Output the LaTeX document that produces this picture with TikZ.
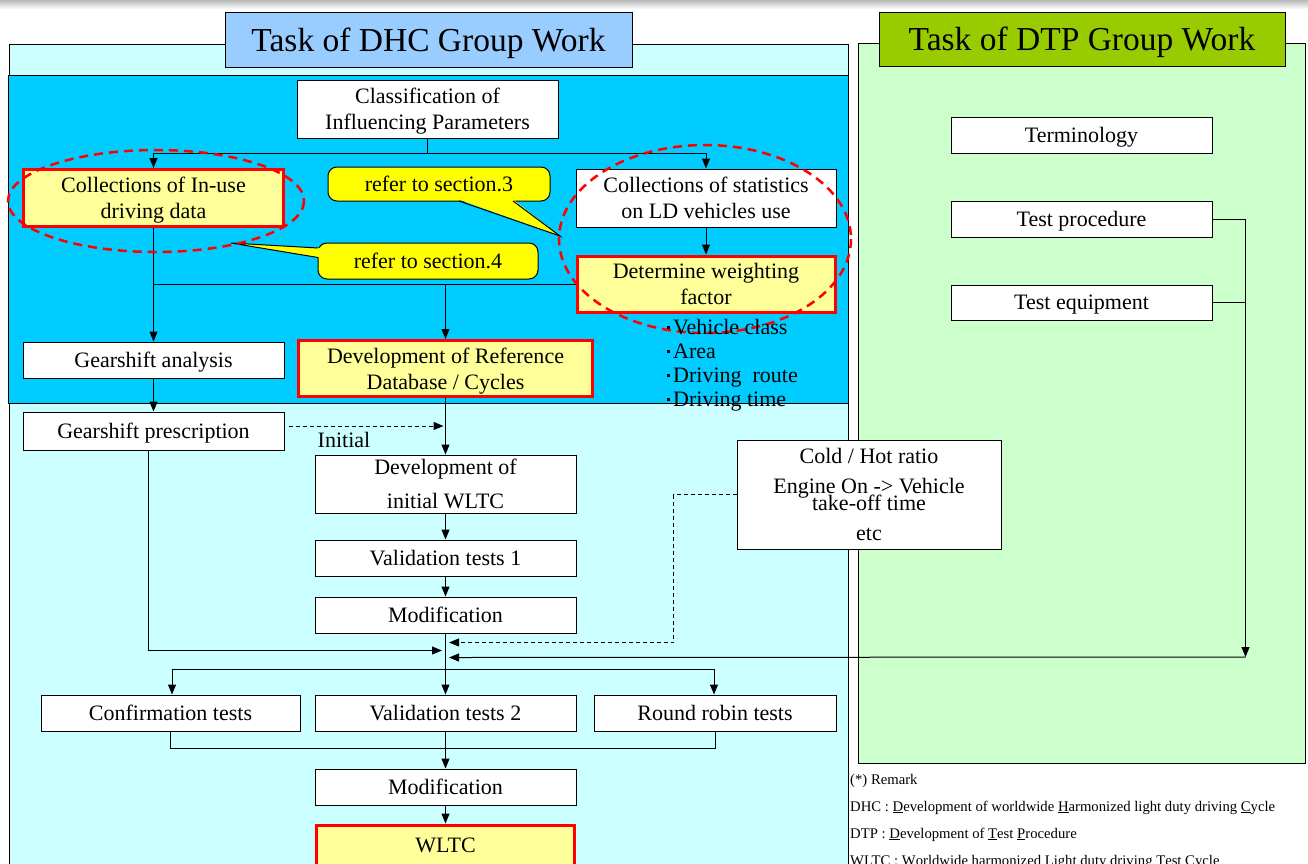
\documentclass[tikz,border=0pt]{standalone}
\usepackage{fontspec}
\setmainfont{Liberation Serif}
\usetikzlibrary{arrows.meta,calc}
\definecolor{cyanl}{HTML}{CCFFFF}
\definecolor{bluereg}{HTML}{00CCFF}
\definecolor{greenl}{HTML}{CCFFCC}
\definecolor{dhcT}{HTML}{99CCFF}
\definecolor{dtpT}{HTML}{99CC00}
\definecolor{yfill}{HTML}{FFFF99}
\definecolor{callY}{HTML}{FFFF00}
\newcommand\bodyfont{\fontsize{22}{26}\selectfont}
\newcommand\titlefont{\fontsize{33.5}{38}\selectfont}
\newcommand\remfont{\fontsize{14.7}{17}\selectfont}
\newcommand\bul{\rule[5pt]{3pt}{3pt}\hspace{3pt}}
\begin{document}
\begin{tikzpicture}[x=1pt,y=-1pt,
  box/.style={draw=black, line width=1pt, fill=white, inner sep=0pt, align=center, font=\bodyfont, text depth=-3.5pt},
  redbox/.style={box, draw=red, line width=3pt, fill=yfill},
  titlebox/.style={draw=black, line width=1pt, inner sep=0pt, font=\titlefont, text depth=-4.5pt},
  arr/.style={-{Triangle[length=10pt,width=8pt]}, line width=1pt},
  conn/.style={line width=1pt},
  dashconn/.style={dash pattern=on 4pt off 3pt},
  redell/.style={draw=red, line width=2.5pt, dash pattern=on 9pt off 6pt},
  callout/.style={draw=black, line width=1pt, fill=callY, rounded corners=9pt, inner sep=0pt, font=\bodyfont, text depth=-3.5pt},
  plain/.style={inner sep=0pt, font=\bodyfont},
  remark/.style={inner sep=0pt, font=\remfont, anchor=base west}]
\useasboundingbox (0,0) rectangle (1308,863);
\clip (0,0) rectangle (1308,863);
\fill[white] (0,0) rectangle (1308,863);
\shade[top color=gray!55, bottom color=white] (0,0) rectangle (1308,9);

% frames
\draw[conn, fill=cyanl] (9,44) rectangle (848,880);
\draw[conn, fill=bluereg] (8,75) rectangle (848,403);
\draw[conn, fill=greenl] (858,43) rectangle (1305,763);
\node[titlebox, fill=dhcT, minimum width=407, minimum height=55] (dhct) at (428.5,39.5) {Task of DHC Group Work};
\node[titlebox, fill=dtpT, minimum width=406, minimum height=54] (dtpt) at (1082,39) {Task of DTP Group Work};

% DHC boxes
\node[box, minimum width=261, minimum height=58] (cls) at (427.5,109) {Classification of\\Influencing Parameters};
\node[redbox, minimum width=260, minimum height=57] (inuse) at (153.5,198) {Collections of In-use\\driving data};
\node[box, minimum width=260, minimum height=58] (stats) at (706,198) {Collections of statistics\\on LD vehicles use};
\node[redbox, minimum width=258, minimum height=56] (weight) at (706,284) {Determine weighting\\factor};
\node[box, minimum width=261, minimum height=36] (gsa) at (153.5,360) {Gearshift analysis};
\node[redbox, minimum width=294, minimum height=56] (ref) at (445.5,368.5) {Development of Reference\\Database / Cycles};
\node[box, minimum width=261, minimum height=38] (gsp) at (153.5,431) {Gearshift prescription};
\node[box, minimum width=261, minimum height=58] (init) at (445.5,484) {Development of\\[8pt]initial WLTC};
\node[box, minimum width=261, minimum height=36] (val1) at (445.5,558) {Validation tests 1};
\node[box, minimum width=261, minimum height=36] (mod1) at (445.5,615) {Modification};
\node[box, minimum width=259, minimum height=36] (conf) at (170.5,713) {Confirmation tests};
\node[box, minimum width=261, minimum height=36] (val2) at (445.5,713) {Validation tests 2};
\node[box, minimum width=242, minimum height=36] (rr) at (715,713) {Round robin tests};
\node[box, minimum width=261, minimum height=36] (mod2) at (445.5,787) {Modification};
\node[redbox, minimum width=258, minimum height=40] (wltc) at (445.5,845) {WLTC};
\node[box, minimum width=264, minimum height=109] (cold) at (869,494.5) {Cold / Hot ratio\\[4pt]Engine On -> Vehicle\\[-9pt]take-off time\\[4pt]etc};

% DTP boxes
\node[box, minimum width=261, minimum height=36] (term) at (1081.5,135) {Terminology};
\node[box, minimum width=261, minimum height=36] (tproc) at (1081.5,219) {Test procedure};
\node[box, minimum width=261, minimum height=35] (tequip) at (1081.5,302.5) {Test equipment};

% connectors
\draw[conn] (cls.south) -- ++(0,15) coordinate (cj);
\draw[arr] (cj) -| (inuse.north);
\draw[arr] (cj) -| (stats.north);
\draw[arr] (stats.south) -- (weight.north);
\draw[arr] (inuse.south) -- (gsa.north);
\draw[conn] (inuse.south |- weight.west) -- (weight.west);
\draw[arr] (ref.north |- weight.west) -- (ref.north);
\draw[arr] (gsa.south) -- (gsp.north);
\draw[arr, dashconn] ($(gsp.east)+(4,-5)$) -- ($(gsp.east -| ref.south)+(-2,-5)$);
\node[plain] (initlbl) at (344,440) {Initial};
\draw[arr] (ref.south) -- (init.north);
\draw[arr] (init.south) -- (val1.north);
\draw[arr] (val1.south) -- (mod1.north);
\draw[arr] (mod1.south) -- (val2.north);
\coordinate (br) at ($(mod1.south)+(0,36)$);
\draw[arr] (br) -| ($(conf.north)+(1.5,0)$);
\draw[arr] (br) -| ($(rr.north)+(-1,0)$);
\draw[arr] ($(gsp.south)+(-5,0)$) |- ($(mod1.south)+(-3.5,17)$);
\draw[arr, dashconn] (cold.west) -| ($(mod1.south)+(228,9)$) -- ($(mod1.south)+(3.5,9)$);
\draw[conn] (tproc.east) -- ++(33,0) coordinate (tp);
\draw[conn] (tequip.east) -| (tp);
\draw[arr] (tp) -- ++(0,438) coordinate (te);
\draw[arr] (te) -- ($(mod1.south)+(3.5,24)$);
\draw[conn] (conf.south) -- ++(0,17) -| (rr.south);
\draw[arr] (val2.south) -- (mod2.north);
\draw[arr] (mod2.south) -- (wltc.north);

% callouts
\node[callout, minimum width=222, minimum height=34] (c3) at (439,184) {refer to section.3};
\coordinate (t3) at (560,236);
\fill[callY] (459,199.5) -- (t3) -- (513,199.5) -- cycle;
\draw[conn] (459,201) -- (t3) -- (513,201);
\node[callout, minimum width=220, minimum height=36] (c4) at (428,261) {refer to section.4};
\coordinate (t4) at (231,243);
\fill[callY] (320,248) -- (t4) -- (320,257.5) -- cycle;
\draw[conn] (318,248) -- (t4) -- (318,257.5);

% red dashed ellipses
\draw[redell] (156,201) ellipse [x radius=148, y radius=51];
\draw[redell] (705,239) ellipse [x radius=146, y radius=94];

% bullet list
\node[plain, anchor=base west] (b1) at (667,334) {\bul Vehicle class};
\node[plain, anchor=base west] (b2) at (667,358) {\bul Area};
\node[plain, anchor=base west] (b3) at (667,382) {\bul Driving\ \ route};
\node[plain, anchor=base west] (b4) at (667,406) {\bul Driving time};

% remarks
\node[remark] (r1) at (850,784) {(*) Remark};
\node[remark] (r2) at (850,811) {DHC : \underline{D}evelopment of worldwide \underline{H}armonized light duty driving \underline{C}ycle};
\node[remark] (r3) at (850,838) {DTP : \underline{D}evelopment of \underline{T}est \underline{P}rocedure};
\node[remark] (r4) at (850,865) {WLTC : \underline{W}orldwide harmonized \underline{L}ight duty driving \underline{T}est \underline{C}ycle};
\end{tikzpicture}
\end{document}
